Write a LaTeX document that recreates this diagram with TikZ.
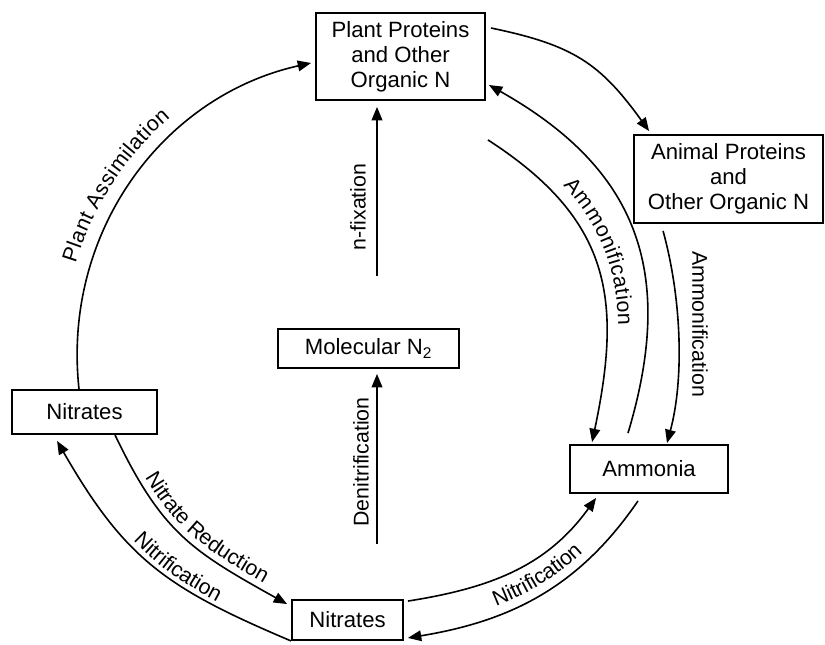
\documentclass[tikz,border=0pt]{standalone}
\usepackage{fontspec}
\setmainfont{Liberation Sans}
\usetikzlibrary{arrows.meta,calc,decorations.text}
\newcommand\lblfont{\fontsize{16}{18.6}\selectfont}
\newcommand\boxfont{\fontsize{16.6}{18.6}\selectfont}
\tikzset{
  box/.style={draw, line width=1.4pt, inner sep=0pt, align=center, font=\boxfont},
  flow/.style={line width=1.2pt, -{Triangle[length=10pt,width=8pt]}},
  lbl/.style={inner sep=0pt, font=\lblfont},
  curvelbl/.style n args={3}{decorate, decoration={text along path, text={|\lblfont|#1}, text align={left indent=#2}, raise=#3}}
}
\begin{document}
\begin{tikzpicture}[x=0.75pt,y=-0.75pt]
\useasboundingbox (0,0) rectangle (825,645);
% boxes
\node[box, minimum width=126.75pt, minimum height=65.25pt] (pp) at (400.5,56.5) {Plant Proteins\\and Other\\Organic N};
\node[box, minimum width=141.75pt, minimum height=66pt] (ap) at (728.5,179) {Animal Proteins\\and\\Other Organic N};
\node[box, minimum width=135.75pt, minimum height=29.25pt] (mn) at (368.5,348.5) {Molecular N\textsubscript{2}};
\node[box, minimum width=108.75pt, minimum height=33pt] (nl) at (84.5,412) {Nitrates};
\node[box, minimum width=83.25pt, minimum height=30pt] (nb) at (347.5,620) {Nitrates};
\node[box, minimum width=118.5pt, minimum height=36pt] (am) at (649,469) {Ammonia};

% Plant assimilation
\draw[flow] ($(nl.north)+(-5.5,0)$) .. controls (62,232) and (163,96) .. ($(pp.west)+(-4,6.5)$);
\path[curvelbl={Plant Assimilation}{92pt}{11pt}] ($(nl.north)+(-5.5,0)$) .. controls (62,232) and (163,96) .. ($(pp.west)+(-4,6.5)$);
% plant proteins -> animal proteins
\draw[flow] ($(pp.east)+(5,-28.5)$) .. controls (573,45) and (600,63) .. ($(ap.north west)+(16,-3)$);
% animal -> ammonia
\draw[flow] ($(ap.south west)+(30,7)$) .. controls (682,300) and (684,380) .. ($(am.north)+(18,-1)$);
\node[lbl, rotate=-90] (l3) at (700,324) {Ammonification};
% ammonia -> plant proteins (outer)
\draw[flow] ($(am.north)+(-21,-11)$) .. controls (677,270) and (636,168) .. ($(pp.east)+(3,28.5)$);
% plant proteins -> ammonia (inner)
\draw[flow] ($(pp.south east)+(2,39)$) .. controls (612,220) and (622,300) .. ($(am.north west)+(23,-2)$);
\path[curvelbl={Ammonification}{64pt}{9pt}] ($(pp.south east)+(2,39)$) .. controls (612,220) and (622,300) .. ($(am.north west)+(23,-2)$);
% nitrification (bottom nitrates -> left nitrates)
\draw[flow] (nb.south west) .. controls (166,588) and (125,559) .. ($(nl.south west)+(46,6)$);
\path[curvelbl={Nitrification}{95pt}{3.5pt}] ($(nl.south west)+(46,6)$) .. controls (125,559) and (166,588) .. (nb.south west);
% nitrate reduction
\draw[flow] ($(nl.south)+(30.5,0)$) .. controls (162,533) and (192,551) .. ($(nb.north west)+(-4,5)$);
\path[curvelbl={Nitrate Reduction}{39pt}{5pt}] ($(nl.south)+(30.5,0)$) .. controls (162,533) and (192,551) .. ($(nb.north west)+(-4,5)$);
% bottom nitrates -> ammonia
\draw[flow] ($(nb.north east)+(4,2)$) .. controls (491,588) and (547,566) .. ($(am.south west)+(27,4)$);
% ammonia -> bottom nitrates
\draw[flow] ($(am.south)+(-11,7)$) .. controls (579,587) and (511,621) .. ($(nb.south east)+(4,-3)$);
\path[curvelbl={Nitrification}{71pt}{6.5pt}] ($(nb.south east)+(4,-3)$) .. controls (511,621) and (579,587) .. ($(am.south)+(-11,7)$);
% n-fixation
\draw[flow] ($(mn.north)+(8.5,-52)$) -- ($(pp.south)+(-23.5,6)$);
\node[lbl, rotate=90] (l4) at (358,207) {n-fixation};
% denitrification
\draw[flow] ($(nb.north)+(29.5,-55)$) -- ($(mn.south)+(8.5,5)$);
\node[lbl, rotate=90] (l5) at (361,462) {Denitrification};
\end{tikzpicture}
\end{document}
